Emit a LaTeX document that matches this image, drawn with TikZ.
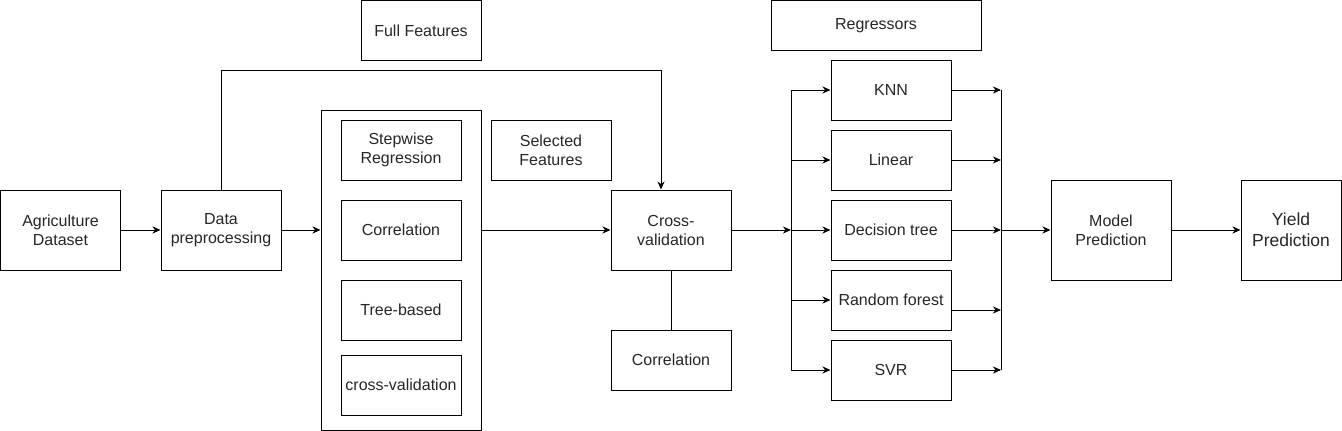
\documentclass[tikz,border=0pt]{standalone}
\usepackage{fontspec}
\setmainfont{Liberation Sans}
\usetikzlibrary{arrows.meta,calc}
\begin{document}
\begin{tikzpicture}[x=1pt,y=-1pt,
  box/.style={draw, line width=1pt, rectangle, inner sep=0pt, align=center,
    text=black!85, font=\fontsize{16}{19}\selectfont},
  arr/.style={-{Stealth[length=8pt,width=7pt,inset=2.5pt]}, line width=1pt},
  ln/.style={line width=1pt}]
\useasboundingbox (0,0) rectangle (1342,431);
% nodes
\node[box, minimum width=120pt, minimum height=80pt] (ag) at (60.5,230) {Agriculture\\Dataset};
\node[box, minimum width=120pt, minimum height=80pt] (dp) at (221,230) {Data\\preprocessing};
\node[box, minimum width=120pt, minimum height=60pt] (ff) at (421,30.5) {Full Features};
\node[box, minimum width=160pt, minimum height=320pt] (cont) at (401,270) {};
\node[box, minimum width=120pt, minimum height=60pt] (sr) at (401,150) {Stepwise\\Regression};
\node[box, minimum width=120pt, minimum height=60pt] (corra) at (401,230) {Correlation};
\node[box, minimum width=120pt, minimum height=60pt] (tb) at (401,310) {Tree-based};
\node[box, minimum width=120pt, minimum height=60pt] (cva) at (401,385) {cross-validation};
\node[box, minimum width=120pt, minimum height=60pt] (sf) at (551,150) {Selected\\Features};
\node[box, minimum width=120pt, minimum height=80pt] (cv) at (671,230) {Cross-\\validation};
\node[box, minimum width=120pt, minimum height=60pt] (corrb) at (671,360) {Correlation};
\node[box, minimum width=210pt, minimum height=50pt] (reg) at (876,25.5) {Regressors};
\node[box, minimum width=120pt, minimum height=60pt] (knn) at (891,90) {KNN};
\node[box, minimum width=120pt, minimum height=60pt] (lin) at (891,160) {Linear};
\node[box, minimum width=120pt, minimum height=60pt] (dt) at (891,230) {Decision tree};
\node[box, minimum width=120pt, minimum height=60pt] (rf) at (891,300) {Random forest};
\node[box, minimum width=120pt, minimum height=60pt] (svr) at (891,370) {SVR};
\node[box, minimum width=120pt, minimum height=100pt] (mp) at (1111,230) {Model\\Prediction};
\node[box, minimum width=100pt, minimum height=100pt, font=\fontsize{17.5}{21}\selectfont] (yp) at (1291,230) {Yield\\Prediction};
% coordinates
\coordinate (tl) at (221,70);
\coordinate (tr) at (661,70);
\coordinate (sp) at (791,230);
\coordinate (mg) at (1001,230);
% connectors
\draw[arr] (ag) -- (dp);
\draw[arr] (dp.east) -- (dp.east -| cont.west);
\draw[arr] (dp.north) -- (tl) -- (tr) -- (tr |- cv.north);
\draw[arr] (cont.east |- cv.west) -- (cv.west);
\draw[ln] (cv.south) -- (corrb.north);
\draw[arr] (cv.east) -- (sp);
\draw[ln] (sp |- knn.west) -- (sp |- svr.west);
\foreach \n in {knn,lin,dt,rf,svr} {
  \draw[arr] (sp |- \n.west) -- (\n.west);
}
\draw[ln] (mg |- knn.east) -- (mg |- svr.east);
\foreach \n in {knn,lin,dt,svr} {
  \draw[arr] (\n.east) -- (mg |- \n.east);
}
\draw[arr] ($(rf.east)+(0,10)$) -- ($(mg |- rf.east)+(0,10)$);
\draw[arr] (mg) -- (mp.west);
\draw[arr] (mp) -- (yp);
\end{tikzpicture}
\end{document}
